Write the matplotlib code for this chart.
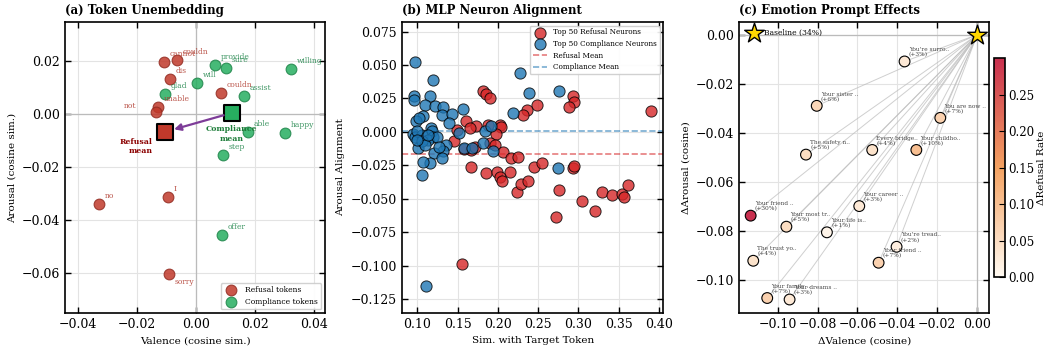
import numpy as np
import matplotlib.pyplot as plt
from matplotlib.colors import LinearSegmentedColormap

plt.rcParams['font.family'] = 'DejaVu Serif'
plt.rcParams['xtick.direction'] = 'in'
plt.rcParams['ytick.direction'] = 'in'
plt.rcParams['xtick.top'] = True
plt.rcParams['ytick.right'] = True
plt.rcParams['xtick.labelsize'] = 9
plt.rcParams['ytick.labelsize'] = 9
plt.rcParams['axes.labelsize'] = 7.5
plt.rcParams['axes.linewidth'] = 1.2

# (a) token unembedding
ref_tokens = ['cannot', 'couldn', 'dis', 'couldn', 'unable', 'not', 'no', 'I', 'sorry']
ref_val = [-0.0108, -0.0064, -0.0088, 0.0085, -0.0129, -0.0136, -0.0329, -0.0095, -0.0092]
ref_aro = [0.0196, 0.0204, 0.0132, 0.0079, 0.0026, 0.0008, -0.0340, -0.0313, -0.0604]
comp_tokens = ['provide', 'sure', 'willing', 'will', 'glad', 'assist', 'able', 'happy', 'step', 'offer']
comp_val = [0.0064, 0.0102, 0.0322, 0.0003, -0.0105, 0.0162, 0.0176, 0.0302, 0.0092, 0.0088]
comp_aro = [0.0185, 0.0174, 0.0170, 0.0117, 0.0075, 0.0068, -0.0068, -0.0072, -0.0155, -0.0457]

# (b) neuron alignment
ref_sim = [0.181, 0.185, 0.190, 0.249, 0.2357, 0.2307, 0.293, 0.2946, 0.288, 0.390,
           0.160, 0.1726, 0.165, 0.1485, 0.145, 0.188, 0.2025, 0.204, 0.1975, 0.190,
           0.196, 0.167, 0.171, 0.2066, 0.2157, 0.2245, 0.1664, 0.185, 0.199, 0.215,
           0.2448, 0.255, 0.293, 0.2946, 0.202, 0.2053, 0.2232, 0.229, 0.237, 0.2763,
           0.272, 0.304, 0.321, 0.3298, 0.3415, 0.354, 0.357, 0.362, 0.155, 0.158]
ref_align = [0.0309, 0.0282, 0.0252, 0.0199, 0.0164, 0.0127, 0.0271, 0.0226, 0.0184, 0.0159,
             0.0082, 0.0045, 0.0027, 0.0015, -0.0072, 0.0052, 0.0052, 0.0040, -0.0017, -0.0085,
             -0.0097, -0.0135, -0.0110, -0.0147, -0.0197, -0.0190, -0.0260, -0.0309, -0.0297, -0.0297,
             -0.0260, -0.0234, -0.0272, -0.0257, -0.0339, -0.0371, -0.0453, -0.0389, -0.0366, -0.0436,
             -0.0638, -0.0516, -0.0590, -0.0451, -0.0471, -0.0463, -0.0488, -0.0401, -0.0989, -0.0128]
comp_sim = [0.0966, 0.2270, 0.1187, 0.0960, 0.0960, 0.1153, 0.2390, 0.2760, 0.1090, 0.1215,
            0.1320, 0.1300, 0.1427, 0.1564, 0.2182, 0.1070, 0.0980, 0.1020, 0.1386, 0.1166,
            0.1180, 0.0945, 0.0975, 0.1050, 0.1195, 0.1130, 0.1010, 0.1060, 0.1350, 0.1320,
            0.1210, 0.1300, 0.1510, 0.1577, 0.1680, 0.1835, 0.1910, 0.1810, 0.1934, 0.1153,
            0.1070, 0.1050, 0.2750, 0.1110, 0.1000, 0.1090, 0.1240, 0.1130, 0.1270, 0.0990]
comp_align = [0.0520, 0.0443, 0.0389, 0.0271, 0.0239, 0.0271, 0.0291, 0.0309, 0.0199, 0.0194,
              0.0184, 0.0127, 0.0137, 0.0170, 0.0140, 0.0115, 0.0085, 0.0102, 0.0065, 0.0027,
              0.0010, -0.0015, -0.0035, -0.0022, -0.0035, -0.0060, -0.0120, -0.0070, -0.0095, -0.0140,
              -0.0159, -0.0197, -0.0010, -0.0122, -0.0122, 0.0008, 0.0045, -0.0085, -0.0140, -0.0234,
              -0.0225, -0.0320, -0.0267, -0.1151, 0.0005, -0.0095, -0.0040, -0.0020, -0.0110, -0.0060]

# (c) emotion prompts
prompt_labels = ["You're surro..", "Your sister ..", "You are now ..", "The safety n..",
                 "Every bridge..", "Your childho..", "Your friend ..", "Your most tr..",
                 "Your career ..", "Your life is..", "You're tread..", "Your friend ..",
                 "The trust yo..", "Your family ..", "Your dreams .."]
d_val = [-0.0364, -0.0804, -0.0185, -0.0858, -0.0526, -0.0305, -0.1135, -0.0956,
         -0.0591, -0.0753, -0.0404, -0.0494, -0.1122, -0.1052, -0.0940]
d_aro = [-0.0109, -0.0290, -0.0339, -0.0489, -0.0470, -0.0470, -0.0738, -0.0783,
         -0.0699, -0.0806, -0.0865, -0.0930, -0.0922, -0.1074, -0.1080]
d_refusal = [0.03, 0.06, 0.07, 0.05, 0.04, 0.10, 0.30, 0.05, 0.03, 0.01, 0.02, 0.07, 0.04, 0.07, 0.03]
baseline_rate = 34

fig = plt.figure(figsize=(10.47, 3.49), dpi=100)
ax1 = fig.add_axes([0.0621, 0.1032, 0.2483, 0.8338])
ax2 = fig.add_axes([0.3840, 0.1032, 0.2495, 0.8338])
ax3 = fig.add_axes([0.7061, 0.1032, 0.2385, 0.8338])
cax = fig.add_axes([0.9497, 0.2063, 0.0105, 0.6267])

for ax in [ax1, ax2, ax3]:
    ax.grid(True, color='#e3e3e3', lw=0.8)
    ax.set_axisbelow(True)
    ax.tick_params(length=4, width=1)

# ---- panel a
red = '#c0392b'
green = '#27ae60'
ax1.axhline(0, color='#bbbbbb', lw=0.9, zorder=1)
ax1.axvline(0, color='#bbbbbb', lw=0.9, zorder=1)
ax1.scatter(ref_val, ref_aro, s=60, c=red, alpha=0.85, edgecolors='#922b21', lw=0.8,
            label='Refusal tokens', zorder=3)
ax1.scatter(comp_val, comp_aro, s=60, c=green, alpha=0.85, edgecolors='#1e8449', lw=0.8,
            label='Compliance tokens', zorder=3)
for i, t in enumerate(ref_tokens):
    off, ha, va = (4, 3), 'left', 'bottom'
    if t == 'not':
        off, ha, va = (-14, 1), 'right', 'bottom'
    if t == 'sorry':
        off, ha, va = (4, -3), 'left', 'top'
    ax1.annotate(t, (ref_val[i], ref_aro[i]), xytext=off, textcoords='offset points',
                 fontsize=5.5, color='#b03a2e', alpha=0.85, ha=ha, va=va)
for i, t in enumerate(comp_tokens):
    ax1.annotate(t, (comp_val[i], comp_aro[i]), xytext=(4, 3), textcoords='offset points',
                 fontsize=5.5, color='#1e8449', alpha=0.85, ha='left', va='bottom')

rm = (np.mean(ref_val), np.mean(ref_aro))
cm = (np.mean(comp_val), np.mean(comp_aro))
ax1.scatter(*rm, s=130, marker='s', c=red, edgecolors='black', lw=1.5, zorder=4)
ax1.scatter(*cm, s=130, marker='s', c=green, edgecolors='black', lw=1.5, zorder=4)
ax1.annotate('', xy=rm, xytext=cm,
             arrowprops=dict(arrowstyle='-|>', color='#7d3c98', lw=1.6, shrinkA=6, shrinkB=7,
                             mutation_scale=10), zorder=5)
ax1.annotate('Refusal\nmean', rm, xytext=(-9, -4), textcoords='offset points', fontsize=5.6,
             fontweight='bold', color='#8b0000', ha='right', va='top')
ax1.annotate('Compliance\nmean', cm, xytext=(0, -9), textcoords='offset points', fontsize=5.6,
             fontweight='bold', color='#1e7d3a', ha='center', va='top')
ax1.set_xlim(-0.0444, 0.0437)
ax1.set_ylim(-0.0751, 0.0347)
ax1.set_xticks([-0.04, -0.02, 0.0, 0.02, 0.04])
ax1.set_yticks([-0.06, -0.04, -0.02, 0.0, 0.02])
ax1.set_xlabel('Valence (cosine sim.)')
ax1.set_ylabel('Arousal (cosine sim.)')
ax1.set_title('(a) Token Unembedding', loc='left', fontsize=8.5, fontweight='bold')
ax1.legend(loc='lower right', fontsize=5.5, framealpha=0.9, edgecolor='#cccccc')

# ---- panel b
ax2.scatter(ref_sim, ref_align, s=65, c='#d62728', alpha=0.8, edgecolors='black', lw=0.7,
            label='Top 50 Refusal Neurons', zorder=3)
ax2.scatter(comp_sim, comp_align, s=65, c='#1f77b4', alpha=0.8, edgecolors='black', lw=0.7,
            label='Top 50 Compliance Neurons', zorder=3)
ax2.axhline(np.mean(ref_align), color='#d62728', ls='--', lw=1.2, alpha=0.6, label='Refusal Mean')
ax2.axhline(np.mean(comp_align), color='#1f77b4', ls='--', lw=1.2, alpha=0.6, label='Compliance Mean')
ax2.set_xlim(0.0808, 0.4054)
ax2.set_ylim(-0.1355, 0.0822)
ax2.set_xticks(np.arange(0.10, 0.401, 0.05))
ax2.set_yticks(np.arange(-0.125, 0.0751, 0.025))
ax2.set_xlabel('Sim. with Target Token')
ax2.set_ylabel('Arousal Alignment')
ax2.set_title('(b) MLP Neuron Alignment', loc='left', fontsize=8.5, fontweight='bold')
ax2.legend(loc='upper right', fontsize=5.2, framealpha=0.9, edgecolor='#cccccc')

# ---- panel c
cmap = LinearSegmentedColormap.from_list('refusal', ['#fffaf2', '#f4a261', '#c9304f'])
ax3.axhline(0, color='#bbbbbb', lw=0.9, zorder=1)
ax3.axvline(0, color='#bbbbbb', lw=0.9, zorder=1)
for i in range(len(d_val)):
    ax3.plot([0, d_val[i]], [0, d_aro[i]], color='#bbbbbb', lw=0.7, alpha=0.7, zorder=2)
sc = ax3.scatter(d_val, d_aro, s=60, c=d_refusal, cmap=cmap, vmin=0, vmax=0.3,
                 edgecolors='black', lw=0.8, zorder=3)
for i, t in enumerate(prompt_labels):
    ax3.annotate(t + '\n(+%d%%)' % round(d_refusal[i] * 100), (d_val[i], d_aro[i]),
                 xytext=(3, 3), textcoords='offset points', fontsize=4.2, color='#444444',
                 ha='left', va='bottom', linespacing=1.0)
ax3.scatter([0], [0], s=220, marker='*', c='#ffd700', edgecolors='black', lw=1,
            label='Baseline (%d%%)' % baseline_rate, zorder=4)
ax3.legend(loc='upper left', fontsize=5.5, frameon=False, handletextpad=0.4)
ax3.set_xlim(-0.1192, 0.0059)
ax3.set_ylim(-0.1135, 0.0052)
ax3.set_xticks([-0.10, -0.08, -0.06, -0.04, -0.02, 0.0])
ax3.set_yticks([-0.10, -0.08, -0.06, -0.04, -0.02, 0.0])
ax3.set_xlabel('\u0394Valence (cosine)')
ax3.set_ylabel('\u0394Arousal (cosine)')
ax3.set_title('(c) Emotion Prompt Effects', loc='left', fontsize=8.5, fontweight='bold')

cb = fig.colorbar(sc, cax=cax)
cb.set_label('\u0394Refusal Rate', fontsize=7.5, labelpad=2)
cb.ax.tick_params(labelsize=8.5, direction='in', length=4, pad=2)
cb.set_ticks([0.0, 0.05, 0.10, 0.15, 0.20, 0.25])

fig.savefig('out.png', dpi=100)
